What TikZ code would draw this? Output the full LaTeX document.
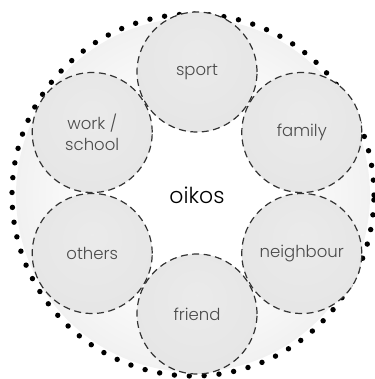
\documentclass[tikz,border=0pt]{standalone}
\usepackage{fontspec}
\setmainfont{Poppins}[UprightFont=* Light]
\usepackage{tikz}
\usetikzlibrary{shapes}
\definecolor{labelgray}{HTML}{4A4A4A}
\definecolor{dashgray}{HTML}{333333}
\pgfdeclareradialshading{oikosshade}{\pgfpoint{0bp}{0bp}}{color(0bp)=(white); color(12bp)=(white); color(50bp)=(black!16)}
\pgfdeclareradialshading{groupshade}{\pgfpoint{0bp}{8bp}}{color(0bp)=(black!8); color(30bp)=(black!10); color(50bp)=(black!14)}
\tikzset{
  group node/.style={circle,draw=dashgray,dashed,dash pattern=on 7bp off 4.5bp,line width=1.2bp,
    minimum size=120bp,inner sep=0pt,shading=groupshade,align=center,
    text=labelgray,font=\fontsize{16.5bp}{21bp}\selectfont},
  center node/.style={font=\fontsize{22bp}{26bp}\selectfont},
  rim/.style={line width=5.4bp,line cap=round,dash pattern=on 0bp off 14.9bp}
}

\begin{document}
\begin{tikzpicture}[x=1bp,y=1bp]
        \useasboundingbox (-197,-186) rectangle (178,193);
        \shade[shading=oikosshade] (-4,-2) circle (177);
        \draw[rim] (-4,-2) circle (181);
        \node [group node] (sport) at (90:121) {sport};
        \node [group node] (work) at (150:121) {work /\\school};
        \node [group node] (family) at (30:121) {family};
        \node [group node] (others) at (210:121) {others};
        \node [group node] (neighbour) at (330:121) {neighbour};
        \node [group node] (friend) at (270:121) {friend};
        \node [center node] (oikos) at (0,-2) {oikos};
      \end{tikzpicture}
\end{document}
